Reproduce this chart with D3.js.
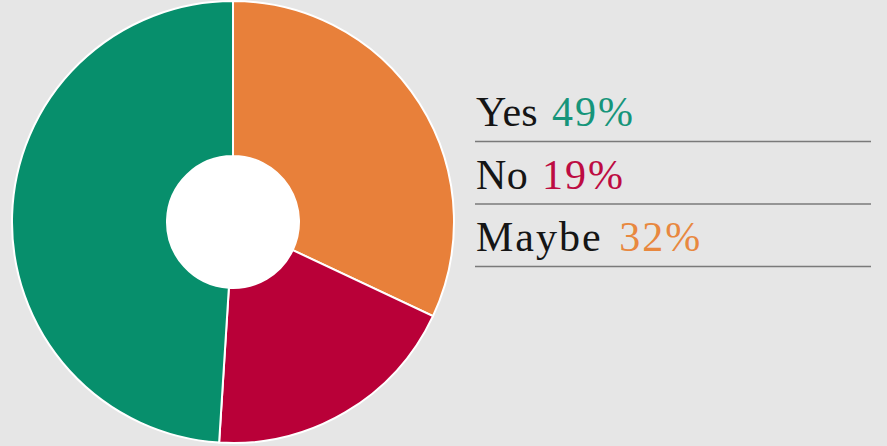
<!DOCTYPE html>
<html>
<head>
<meta charset="utf-8">
<script src="https://cdn.jsdelivr.net/npm/d3@7"></script>
<style>
  html, body { margin: 0; padding: 0; background: #e6e6e6; }
  svg { display: block; }
</style>
</head>
<body>
<div id="chart"></div>
<script>
// answers, drawn clockwise from 12 o'clock
var labels = ["Maybe", "No", "Yes"];
var values = [32, 19, 49];
var colors = ["#e8803a", "#b90038", "#078f6c"];
var textColors = ["#e8883f", "#bd0c42", "#16957a"];
// legend order
var legendOrder = ["Yes", "No", "Maybe"];

var width = 887, height = 446;
var cx = 233, cy = 222, outerR = 221, innerR = 66;

var svg = d3.select("#chart").append("svg")
  .attr("width", width)
  .attr("height", height);

svg.append("rect")
  .attr("width", width)
  .attr("height", height)
  .attr("fill", "#e6e6e6");

var pie = d3.pie().sort(null).value(function(d){ return d; });
var arc = d3.arc().innerRadius(innerR).outerRadius(outerR);

var g = svg.append("g")
  .attr("transform", "translate(" + cx + "," + cy + ")");

g.selectAll("path")
  .data(pie(values))
  .enter().append("path")
  .attr("d", arc)
  .attr("fill", function(d, i){ return colors[i]; })
  .attr("stroke", "#ffffff")
  .attr("stroke-width", 2);

// white hole
g.append("circle")
  .attr("r", innerR)
  .attr("fill", "#ffffff");

// legend
var legendX = 476, legendW = 395, rowH = 62.5, firstBase = 126;

var leg = svg.append("g");
legendOrder.forEach(function(name, k) {
  var i = labels.indexOf(name);
  var y = firstBase + k * rowH;
  var t = leg.append("text")
    .attr("x", legendX)
    .attr("y", y)
    .attr("font-family", "'Liberation Serif', 'DejaVu Serif', serif")
    .attr("font-size", 42)
    .attr("fill", "#151515");
  t.append("tspan")
    .attr("letter-spacing", name === "Maybe" ? 2 : 0.3)
    .text(name);
  t.append("tspan")
    .attr("dx", name === "Maybe" ? 4 : 1.5)
    .attr("fill", textColors[i])
    .attr("letter-spacing", 2)
    .text(" " + values[i] + "%");

  leg.append("line")
    .attr("x1", legendX - 1)
    .attr("x2", legendX + legendW)
    .attr("y1", y + 15.5)
    .attr("y2", y + 15.5)
    .attr("stroke", "#7a7a7a")
    .attr("stroke-width", 1.5);
});
</script>
</body>
</html>
